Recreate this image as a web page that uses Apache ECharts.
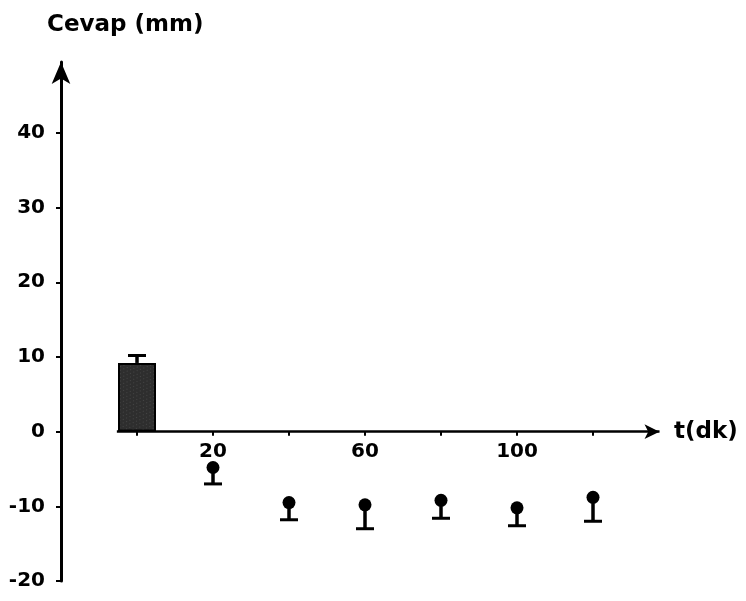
<!DOCTYPE html>
<html>
<head>
<meta charset="utf-8">
<script src="https://cdn.jsdelivr.net/npm/echarts@6/dist/echarts.min.js"></script>
<style>
  html, body { margin: 0; padding: 0; background: #fff; }
  #chart { width: 746px; height: 601px; }
</style>
</head>
<body>
<div id="chart"></div>
<script>
// Baseline response (shaded bar at t = 0)
const baseTime = 0;
const baseValue = 9.2;
const baseErrTop = 10.2;

// Responses after the stimulus: mean and lower end of the error bar
const times = [20, 40, 60, 80, 100, 120];
const means = [-4.8, -9.5, -9.8, -9.2, -10.2, -8.8];
const errLow = [-7.0, -11.8, -13.0, -11.6, -12.6, -12.0];

// Axis ticks and labels
const yTicks = [-20, -10, 0, 10, 20, 30, 40];
const xTicks = [0, 20, 40, 60, 80, 100, 120];
const xLabels = [20, 60, 100];

const FONT = "'DejaVu Sans', sans-serif";
const INK = '#000';

const Y_MIN = -20;
const Y_MAX = 49.5;
const GRID = { left: 61, right: 77, top: 62, bottom: 20 };
const CHART_H = 601;

const points = times.map((t, i) => [t, means[i]]);
const errors = times.map((t, i) => [t, means[i], errLow[i]]);
errors.push([baseTime, baseValue, baseErrTop]);

// Lift the time axis from the grid bottom up to y = 0
const plotH = CHART_H - GRID.top - GRID.bottom;
const zeroLift = plotH * (0 - Y_MIN) / (Y_MAX - Y_MIN);

// Single-sided error bar with a flat cap
function renderError(params, api) {
  const p1 = api.coord([api.value(0), api.value(1)]);
  const p2 = api.coord([api.value(0), api.value(2)]);
  const half = 9;
  return {
    type: 'group',
    children: [
      { type: 'line', shape: { x1: p1[0], y1: p1[1], x2: p2[0], y2: p2[1] },
        style: { stroke: INK, lineWidth: 3.5 } },
      { type: 'line', shape: { x1: p2[0] - half, y1: p2[1], x2: p2[0] + half, y2: p2[1] },
        style: { stroke: INK, lineWidth: 3 } }
    ]
  };
}

const chart = echarts.init(document.getElementById('chart'), null, { renderer: 'canvas' });
chart.setOption({
  animation: false,
  backgroundColor: '#fff',
  title: {
    text: 'Cevap (mm)',
    left: 42, top: 9,
    textStyle: { fontFamily: FONT, fontWeight: 'bold', fontSize: 23, color: INK }
  },
  grid: Object.assign({ outerBoundsMode: 'none', containLabel: false }, GRID),
  xAxis: {
    type: 'value',
    min: -20, max: 140,
    position: 'bottom',
    offset: -zeroLift,
    name: 't(dk)',
    nameLocation: 'end',
    nameGap: 5,
    nameTextStyle: { fontFamily: FONT, fontWeight: 'bold', fontSize: 23, color: INK,
      verticalAlign: 'middle', padding: [0, 0, 22, 0] },
    axisLine: { show: false, onZero: false },
    axisTick: { show: true, customValues: xTicks, length: 4, lineStyle: { color: INK, width: 2 } },
    axisLabel: { customValues: xLabels, margin: 10, fontFamily: FONT, fontWeight: 'bold',
      fontSize: 20, color: INK },
    splitLine: { show: false }
  },
  yAxis: {
    type: 'value',
    min: Y_MIN, max: Y_MAX,
    axisLine: { show: true, onZero: false, symbol: ['none', 'arrow'], symbolSize: [14, 22],
      lineStyle: { color: INK, width: 3 } },
    axisTick: { show: true, customValues: yTicks, length: 5, lineStyle: { color: INK, width: 2 } },
    axisLabel: { customValues: yTicks, margin: 16, fontFamily: FONT, fontWeight: 'bold',
      fontSize: 20, color: INK },
    splitLine: { show: false }
  },
  series: [
    {
      type: 'bar',
      data: [[baseTime, baseValue]],
      barWidth: 38,
      itemStyle: {
        color: '#2e2e2e',
        borderColor: INK,
        borderWidth: 2,
        decal: {
          symbol: 'rect',
          symbolSize: 0.5,
          color: 'rgba(255,255,255,0.45)',
          dashArrayX: [[1, 3], [0, 2, 1, 1]],
          dashArrayY: [1, 2],
          rotation: 0.6
        }
      },
      silent: true
    },
    {
      type: 'custom',
      data: errors,
      renderItem: renderError,
      silent: true,
      z: 3
    },
    {
      type: 'scatter',
      data: points,
      symbol: 'circle',
      symbolSize: 13,
      itemStyle: { color: INK, opacity: 1 },
      silent: true,
      z: 4,
      markLine: {
        silent: true,
        symbol: ['none', 'arrow'],
        symbolSize: [11, 15],
        label: { show: false },
        lineStyle: { color: INK, width: 2.5, type: 'solid' },
        data: [[{ coord: [-5.3, 0] }, { coord: [137.5, 0] }]]
      }
    }
  ]
});
</script>
</body>
</html>
